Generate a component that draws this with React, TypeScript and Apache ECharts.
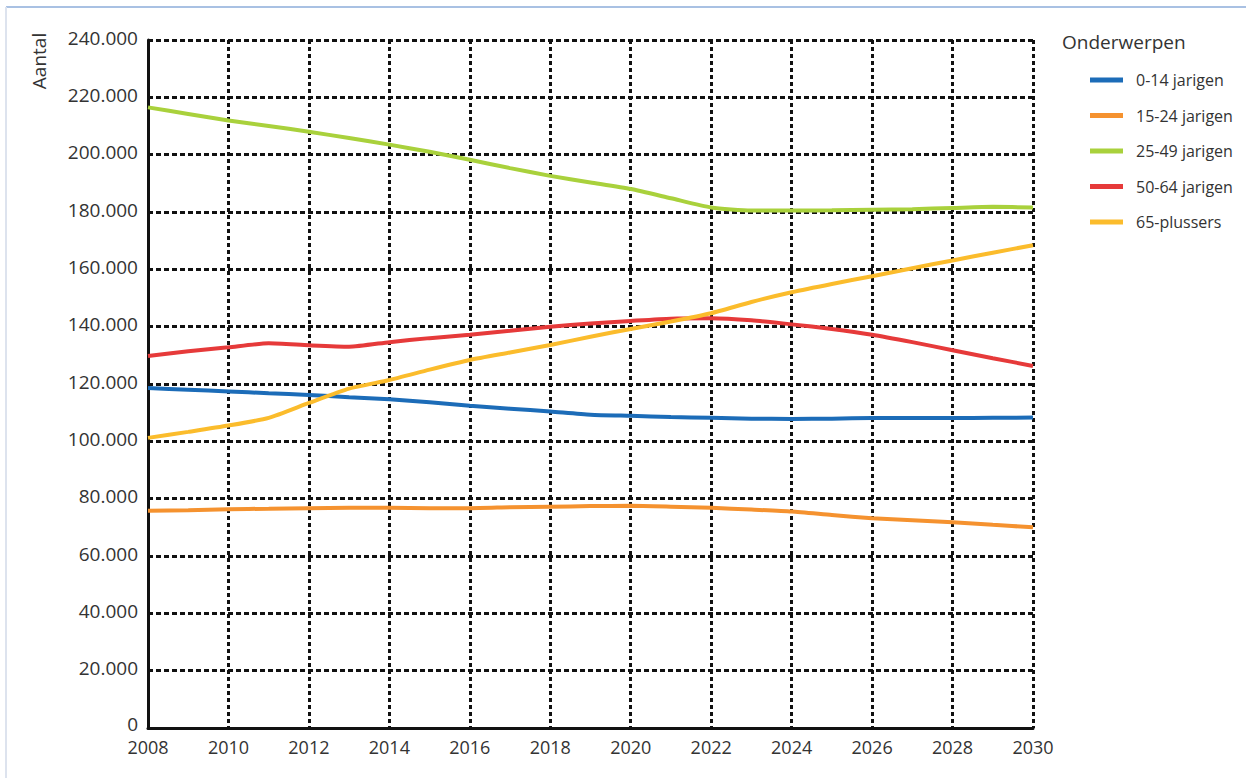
import React, { useEffect, useRef } from "react";
import * as echarts from "echarts";

const years = [2008, 2009, 2010, 2011, 2012, 2013, 2014, 2015, 2016, 2017, 2018, 2019, 2020, 2021, 2022, 2023, 2024, 2025, 2026, 2027, 2028, 2029, 2030];

const seriesNames = ["0-14 jarigen", "15-24 jarigen", "25-49 jarigen", "50-64 jarigen", "65-plussers"];
const seriesColors = ["#1c6cb8", "#f5922f", "#a9d13c", "#e63a3a", "#fbbc2c"];

// values in thousands
const age0to14 = [118.6, 118.0, 117.4, 116.8, 116.2, 115.4, 114.7, 113.6, 112.4, 111.4, 110.4, 109.3, 108.9, 108.5, 108.2, 107.9, 107.8, 107.9, 108.1, 108.1, 108.1, 108.2, 108.3];
const age15to24 = [75.8, 76.0, 76.3, 76.5, 76.7, 76.8, 76.8, 76.7, 76.7, 77.0, 77.2, 77.4, 77.5, 77.2, 76.8, 76.2, 75.5, 74.3, 73.2, 72.5, 71.8, 70.9, 70.0];
const age25to49 = [216.5, 214.2, 211.9, 210.0, 208.0, 205.8, 203.5, 201.0, 198.2, 195.3, 192.6, 190.3, 188.0, 184.8, 181.6, 180.5, 180.5, 180.6, 180.8, 181.0, 181.4, 181.8, 181.6];
const age50to64 = [129.8, 131.4, 132.8, 134.2, 133.5, 133.0, 134.6, 136.0, 137.2, 138.6, 140.0, 141.1, 142.0, 142.8, 142.9, 142.2, 140.8, 139.2, 137.2, 134.6, 131.8, 129.0, 126.3];
const age65plus = [101.2, 103.3, 105.5, 108.2, 113.4, 118.4, 121.4, 125.0, 128.4, 131.0, 133.6, 136.5, 139.2, 141.8, 144.7, 148.6, 152.0, 154.9, 157.6, 160.4, 163.1, 165.8, 168.4];

const allValues = [age0to14, age15to24, age25to49, age50to64, age65plus];

const yMin = 0;
const yMax = 240000;
const yInterval = 20000;
const xMin = 2008;
const xMax = 2030;
const xInterval = 2;

const FONT = "'Open Sans', 'Noto Sans', sans-serif";

export default function App() {
  const ref = useRef<HTMLDivElement>(null);

  useEffect(() => {
    if (!ref.current) return;
    const chart = echarts.init(ref.current, undefined, { renderer: "svg" });
    const series = seriesNames.map((name, i) => ({
      name,
      type: "line" as const,
      data: years.map((y, j) => [y, allValues[i][j] * 1000]),
      showSymbol: false,
      smooth: 0.2,
      lineStyle: { color: seriesColors[i], width: 4 },
      itemStyle: { color: seriesColors[i] },
      z: 5,
    }));
    chart.setOption({
      animation: false,
      backgroundColor: "#ffffff",
      grid: { left: 148, right: 218, top: 40, bottom: 50, containLabel: false },
      xAxis: {
        type: "value",
        min: xMin,
        max: xMax,
        interval: xInterval,
        axisLine: { show: true, onZero: false, lineStyle: { color: "#111", width: 3 } },
        axisTick: { show: false },
        axisLabel: {
          formatter: (v: number) => String(v),
          color: "#333",
          fontFamily: FONT,
          fontSize: 18,
          lineHeight: 16,
          margin: 11,
        },
        splitLine: { show: true, lineStyle: { color: "#111", width: 3, type: [4, 3] } },
      },
      yAxis: {
        type: "value",
        min: yMin,
        max: yMax,
        interval: yInterval,
        axisLine: { show: true, lineStyle: { color: "#111", width: 3 } },
        axisTick: { show: false },
        axisLabel: {
          formatter: (v: number) => (v === 0 ? "{z|0}" : `${v / 1000}.000`),
          color: "#333",
          fontFamily: FONT,
          fontSize: 19,
          lineHeight: 15,
          margin: 10,
          padding: [0, 0, 5, 0],
          rich: {
            z: { color: "#333", fontFamily: FONT, fontSize: 19, lineHeight: 15, padding: [0, 0, 4, 0] },
          },
        },
        splitLine: { show: true, lineStyle: { color: "#111", width: 3, type: [5, 3] } },
      },
      legend: {
        orient: "vertical",
        left: 1090,
        top: 70,
        padding: 0,
        icon: "rect",
        itemWidth: 33,
        itemHeight: 5,
        itemGap: 15.5,
        textStyle: { color: "#333", fontFamily: FONT, fontSize: 16, lineHeight: 20, padding: [0, 0, 0, 8] },
        data: seriesNames,
      },
      graphic: [
        {
          type: "line",
          shape: { x1: 6, y1: 7, x2: 1246, y2: 7 },
          style: { stroke: "#a9c1e3", lineWidth: 2 },
        },
        {
          type: "line",
          shape: { x1: 6, y1: 7, x2: 6, y2: 778 },
          style: { stroke: "#dde3ee", lineWidth: 2 },
        },
        {
          type: "text",
          x: 1062,
          y: 42,
          style: {
            text: "Onderwerpen",
            fill: "#333",
            font: `19px ${FONT}`,
            textAlign: "left",
            textVerticalAlign: "middle",
          },
        },
        {
          type: "text",
          x: 39,
          y: 61,
          rotation: Math.PI / 2,
          style: {
            text: "Aantal",
            fill: "#333",
            font: `19px ${FONT}`,
            textAlign: "center",
            textVerticalAlign: "middle",
          },
        },
      ],
      series,
    });
    return () => chart.dispose();
  }, []);

  return (
    <div
      ref={ref}
      style={{ position: "fixed", left: 0, top: 0, width: 1251, height: 778 }}
    />
  );
}
